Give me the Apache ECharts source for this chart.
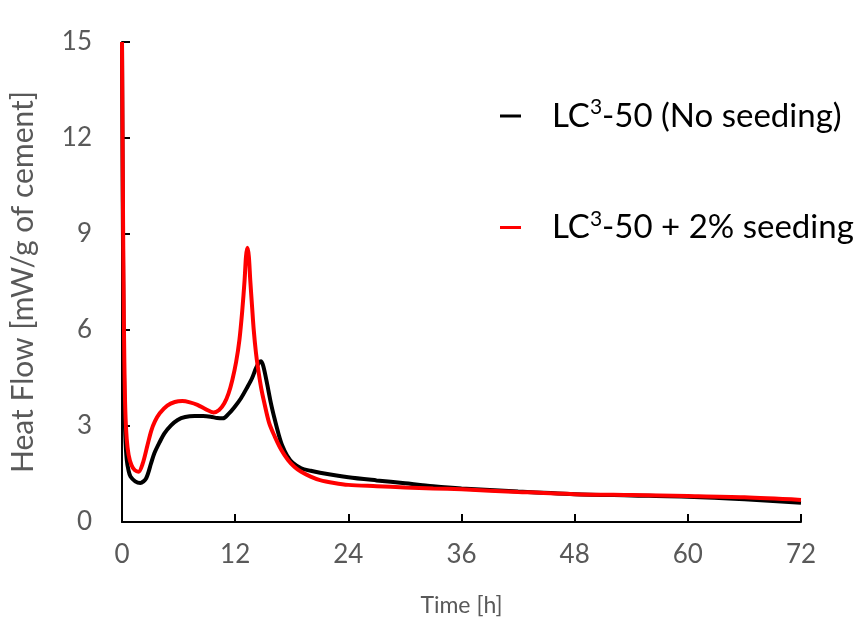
<!DOCTYPE html>
<html><head><meta charset="utf-8">
<script src="https://cdn.jsdelivr.net/npm/echarts@6/dist/echarts.min.js"></script>
<style>html,body{margin:0;padding:0;background:#fff}#c{width:859px;height:625px}</style>
</head><body><div id="c"></div>
<script>
const xTicks = [0, 12, 24, 36, 48, 60, 72];
const yTicks = [0, 3, 6, 9, 12, 15];
const seriesNames = ['LC3-50 (No seeding)', 'LC3-50 + 2% seeding'];
const noSeedT = [0,0.08,0.16,0.25,0.35,0.5,0.7,0.9,1.4,1.94,2.55,3.08,3.43,4.0,4.5,5.2,5.9,6.7,7.7,8.6,9.4,10.1,10.7,11.3,11.9,12.6,13.3,13.8,14.2,14.5,14.75,15.0,15.4,15.8,16.2,16.6,17.0,17.5,18.1,19.0,20,21,24,27,30,33,36,42,48,54,60,66,72];
const noSeedQ = [15,10,6.2,3.8,2.7,1.95,1.6,1.42,1.27,1.22,1.36,1.83,2.15,2.5,2.77,3.02,3.19,3.28,3.31,3.31,3.29,3.25,3.24,3.38,3.58,3.86,4.22,4.5,4.8,4.97,5.02,4.85,4.3,3.7,3.2,2.75,2.38,2.08,1.85,1.68,1.6,1.54,1.40,1.3,1.21,1.12,1.05,0.95,0.87,0.83,0.79,0.71,0.6];
const seedT = [0,0.08,0.16,0.25,0.35,0.5,0.7,1.0,1.35,1.75,2.2,2.7,3.1,3.5,4.0,4.8,5.6,6.4,7.2,8.0,8.9,9.7,10.3,10.85,11.3,11.7,12.1,12.45,12.75,13.0,13.15,13.3,13.45,13.6,13.8,13.97,14.2,14.4,14.75,15.1,15.6,16.2,16.9,17.6,18.3,19.0,20,21,22.5,24,27,30,33,36,42,48,54,60,66,72];
const seedQ = [15,11,7.5,5,3.5,2.6,2.1,1.78,1.62,1.57,1.83,2.4,2.85,3.15,3.4,3.64,3.75,3.78,3.74,3.66,3.52,3.42,3.5,3.71,4.02,4.44,5.0,5.69,6.6,7.56,8.3,8.57,8.3,7.56,6.7,6.0,5.3,4.85,4.2,3.71,3.1,2.67,2.25,1.94,1.72,1.57,1.42,1.31,1.22,1.16,1.12,1.08,1.05,1.02,0.94,0.87,0.84,0.81,0.77,0.69];

const zip = (a, b) => a.map((v, i) => [v, b[i]]);
const FONT = 'Lato';
const GREY = '#595959';
const chart = echarts.init(document.getElementById('c'), null, {renderer: 'canvas'});
chart.setOption({
  animation: false,
  backgroundColor: '#fff',
  textStyle: {fontFamily: FONT},
  grid: {left: 121, right: 58, top: 42, bottom: 103, containLabel: false},
  legend: {
    orient: 'vertical', left: 495, top: 92, itemGap: 76,
    icon: 'rect', itemWidth: 21, itemHeight: 3,
    data: seriesNames,
    formatter: n => n === seriesNames[0] ? '{a|LC}{s|3}{a|-50 (No seeding)}' : '{a|LC}{s|3}{a|-50 + 2% seeding}',
    textStyle: {
      padding: [0, 0, 0, 26],
      rich: {
        a: {fontFamily: FONT, fontSize: 33, color: '#000', lineHeight: 38},
        s: {fontFamily: FONT, fontSize: 21, color: '#000', verticalAlign: 'top', lineHeight: 38, padding: [0, 0, 12, 0]}
      }
    }
  },
  xAxis: {
    type: 'value', min: 0, max: 72, interval: 12,
    name: 'Time [h]', nameLocation: 'middle', nameGap: 72,
    nameTextStyle: {fontFamily: FONT, fontSize: 23, color: GREY},
    axisLine: {show: true, lineStyle: {color: '#000', width: 2}},
    axisTick: {show: true, inside: true, length: 8, lineStyle: {color: '#000', width: 2}},
    axisLabel: {fontFamily: FONT, fontSize: 26, color: GREY, margin: 20},
    splitLine: {show: false}
  },
  yAxis: {
    type: 'value', min: 0, max: 15, interval: 3,
    name: 'Heat Flow [mW/g of cement]', nameLocation: 'middle', nameGap: 84, nameRotate: 90,
    nameTextStyle: {fontFamily: FONT, fontSize: 30, color: GREY},
    axisLine: {show: true, lineStyle: {color: '#000', width: 2}},
    axisTick: {show: true, inside: true, length: 8, lineStyle: {color: '#000', width: 2}},
    axisLabel: {fontFamily: FONT, fontSize: 26, color: GREY, margin: 30},
    splitLine: {show: false}
  },
  series: [
    {name: seriesNames[0], type: 'line', data: zip(noSeedT, noSeedQ), showSymbol: false, smooth: 0.3,
     lineStyle: {color: '#000', width: 4}, itemStyle: {color: '#000'}, z: 2},
    {name: seriesNames[1], type: 'line', data: zip(seedT, seedQ), showSymbol: false, smooth: 0.3,
     lineStyle: {color: '#ff0000', width: 4}, itemStyle: {color: '#ff0000'}, z: 3}
  ]
});
</script></body></html>
